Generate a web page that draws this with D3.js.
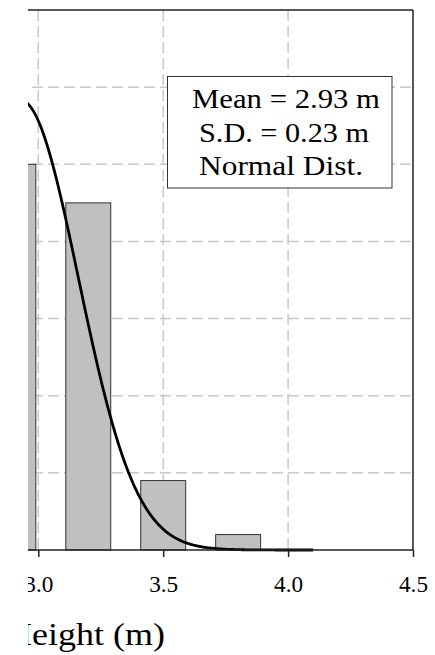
<!DOCTYPE html>
<html>
<head>
<meta charset="utf-8">
<title>Height histogram</title>
<script src="https://d3js.org/d3.v7.min.js"></script>
<style>
  body { margin: 0; background: #fff; }
  svg text { font-family: "Liberation Serif", "DejaVu Serif", serif; fill: #000; }
  .grid line { stroke: #c8c8c8; stroke-width: 1.5; stroke-dasharray: 11,5; }
</style>
</head>
<body>
<div id="chart"></div>
<script>
// histogram bins (centre of bin, in m) and counts
const binCenters = [2.9, 3.2, 3.5, 3.8];
const binCounts = [50, 45, 9, 2];
const binWidth = 0.3;
const barWidth = 0.18;
const totalN = 112;

// fitted normal
const mean = 2.93;
const sd = 0.23;

const xTicks = [3.0, 3.5, 4.0, 4.5];
const yGrid = [10, 20, 30, 40, 50, 60];
const legendLines = ["Mean = 2.93 m", "S.D. = 0.23 m", "Normal Dist."];
const xLabel = "Height (m)";

const serif = '"Liberation Serif", "DejaVu Serif", serif';
const W = 435, H = 655;
const svg = d3.select("#chart").append("svg")
  .attr("width", W).attr("height", H);

// the figure is cut on the left
svg.append("clipPath").attr("id", "cut")
  .append("rect").attr("x", 28).attr("y", 0).attr("width", W).attr("height", H);

const g = svg.append("g").attr("clip-path", "url(#cut)");

const x = d3.scaleLinear().domain([3.0, 4.5]).range([38.3, 413]);
const y = d3.scaleLinear().domain([0, 70]).range([550, 10]);

// grid
const grid = g.append("g").attr("class", "grid");
grid.selectAll(".gv").data(xTicks.slice(0, 3)).join("line")
  .attr("x1", d => x(d)).attr("x2", d => x(d))
  .attr("y1", y(70)).attr("y2", y(0));
grid.selectAll(".gh").data(yGrid).join("line")
  .attr("x1", 0).attr("x2", x(4.5))
  .attr("y1", d => y(d)).attr("y2", d => y(d));

// bars
g.selectAll("rect.bar").data(binCenters).join("rect")
  .attr("class", "bar")
  .attr("x", d => x(d - barWidth / 2))
  .attr("width", d => x(d + barWidth / 2) - x(d - barWidth / 2))
  .attr("y", (d, i) => y(binCounts[i]))
  .attr("height", (d, i) => y(0) - y(binCounts[i]))
  .attr("fill", "#c0c0c0")
  .attr("stroke", "#333")
  .attr("stroke-width", 1);

// frame
g.append("line").attr("x1", 0).attr("x2", x(4.5)).attr("y1", y(70)).attr("y2", y(70))
  .attr("stroke", "#222").attr("stroke-width", 1.5);
g.append("line").attr("x1", x(4.5)).attr("x2", x(4.5)).attr("y1", y(70)).attr("y2", y(0))
  .attr("stroke", "#222").attr("stroke-width", 1.5);

// normal curve
const pdf = v => Math.exp(-0.5 * Math.pow((v - mean) / sd, 2)) / (sd * Math.sqrt(2 * Math.PI));
const pts = d3.range(2.2, 4.1001, 0.005);
g.append("path")
  .datum(pts)
  .attr("fill", "none")
  .attr("stroke", "#000")
  .attr("stroke-width", 2.8)
  .attr("d", d3.line().x(d => x(d)).y(d => y(totalN * binWidth * pdf(d))));

// x axis
const xAxis = g.append("g").attr("transform", `translate(0,${y(0)})`)
  .call(d3.axisBottom(x).tickValues(xTicks).tickFormat(d3.format(".1f"))
    .tickSize(7).tickSizeOuter(0));
xAxis.attr("font-family", serif).attr("font-size", 23);
xAxis.select(".domain").remove();
g.append("line").attr("x1", 0).attr("x2", x(4.5)).attr("y1", y(0)).attr("y2", y(0))
  .attr("stroke", "#222").attr("stroke-width", 1.5);
xAxis.selectAll(".tick line").attr("stroke", "#222").attr("stroke-width", 1.5);
xAxis.selectAll(".tick text")
  .attr("y", 42).attr("dy", 0)
  .attr("font-family", serif)
  .attr("font-size", 23)
  .attr("textLength", 29)
  .attr("lengthAdjust", "spacingAndGlyphs")
  .attr("fill", "#000");

// x label
g.append("text")
  .attr("x", 6).attr("y", 645)
  .attr("font-family", serif)
  .attr("font-size", 31)
  .attr("textLength", 159).attr("lengthAdjust", "spacingAndGlyphs")
  .text(xLabel);

// legend box
const box = g.append("g");
box.append("rect")
  .attr("x", 167.5).attr("y", 76.5).attr("width", 224.5).attr("height", 111.5)
  .attr("fill", "#fff").attr("stroke", "#333").attr("stroke-width", 1);
const lineX = [[192, 188], [199, 170], [199, 164]];
box.selectAll("text.leg").data(legendLines).join("text")
  .attr("class", "leg")
  .attr("x", (d, i) => lineX[i][0])
  .attr("y", (d, i) => 108 + i * 33.5)
  .attr("textLength", (d, i) => lineX[i][1])
  .attr("lengthAdjust", "spacingAndGlyphs")
  .attr("font-family", serif)
  .attr("font-size", 27)
  .text(d => d);
</script>
</body>
</html>
